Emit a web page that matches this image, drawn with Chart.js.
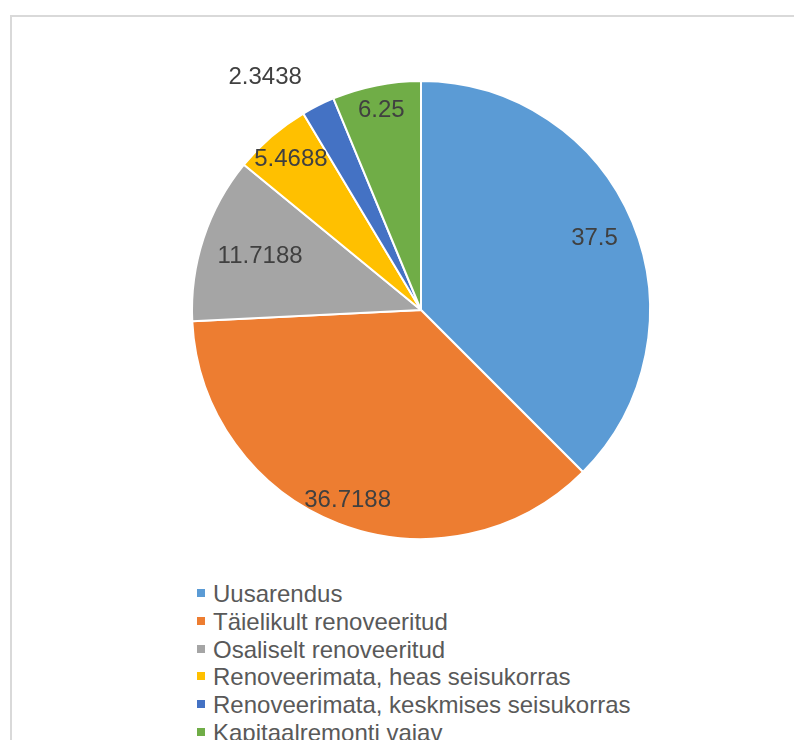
<!DOCTYPE html>
<html lang="et">
<head>
<meta charset="utf-8">
<title>Hoonete seisukord</title>
<script src="https://cdn.jsdelivr.net/npm/chart.js@4.4.1/dist/chart.umd.min.js"></script>
<style>
  html, body { margin: 0; padding: 0; background: #fff; overflow: hidden; }
  body { width: 794px; height: 740px; position: relative; font-family: "Liberation Sans", Arial, sans-serif; }
  .frame { position: absolute; left: 10px; top: 15px; width: 820px; height: 760px;
           border: 2px solid #d9d9d9; box-sizing: border-box; }
  #pie { position: absolute; left: 0; top: 0; }
  .legend { position: absolute; left: 197px; top: 580px; margin: 0; padding: 0; list-style: none; }
  .legend li { position: relative; padding-left: 16px; height: 27.75px; line-height: 27.75px;
               font-size: 24px; color: #595959; white-space: nowrap; }
  .legend span { position: absolute; left: 0; top: 9px; width: 8px; height: 8px; }
</style>
</head>
<body>
<div class="frame"></div>
<canvas id="pie" width="794" height="560"></canvas>
<ul class="legend" id="legend"></ul>

<script>
// slices, clockwise from 12 o'clock
const categories = [
  'Uusarendus',
  'Täielikult renoveeritud',
  'Osaliselt renoveeritud',
  'Renoveerimata, heas seisukorras',
  'Renoveerimata, keskmises seisukorras',
  'Kapitaalremonti vajav'
];
const shares = [37.5, 36.7188, 11.7188, 5.4688, 2.3438, 6.25];

const sliceColors = ['#5B9BD5', '#ED7D31', '#A5A5A5', '#FFC000', '#4472C4', '#70AD47'];

// where each value label sits, as a fraction of the radius along the slice middle
// (the thin slice gets its label outside, nudged left)
const labelRadius = [0.82, 0.89, 0.74, 0.87, 1.135, 0.89];
const labelShift = [0, 0, 0, 0, -39, 0];

const sliceLabels = {
  id: 'sliceLabels',
  afterDatasetsDraw(chart) {
    const ctx = chart.ctx;
    const meta = chart.getDatasetMeta(0);
    ctx.save();
    ctx.font = '24px "Liberation Sans", Arial, sans-serif';
    ctx.fillStyle = '#404040';
    ctx.textAlign = 'center';
    ctx.textBaseline = 'middle';
    meta.data.forEach((arc, i) => {
      const p = arc.getProps(['x', 'y', 'startAngle', 'endAngle', 'outerRadius'], true);
      const mid = (p.startAngle + p.endAngle) / 2;
      const r = p.outerRadius * labelRadius[i];
      ctx.fillText(String(chart.data.datasets[0].data[i]),
        p.x + Math.cos(mid) * r + labelShift[i],
        p.y + Math.sin(mid) * r);
    });
    ctx.restore();
  }
};

const chart = new Chart(document.getElementById('pie'), {
  type: 'pie',
  data: {
    labels: categories,
    datasets: [{
      data: shares,
      backgroundColor: sliceColors,
      borderColor: '#ffffff',
      borderWidth: 2,
      radius: 229
    }]
  },
  options: {
    responsive: false,
    animation: false,
    layout: { padding: { left: 48, top: 60 } },
    plugins: {
      legend: { display: false },
      tooltip: { enabled: false }
    }
  },
  plugins: [sliceLabels]
});

// legend as a plain list under the pie
const legendEl = document.getElementById('legend');
chart.options.plugins.legend.labels.generateLabels(chart).forEach(item => {
  const li = document.createElement('li');
  const box = document.createElement('span');
  box.style.background = item.fillStyle;
  li.appendChild(box);
  li.appendChild(document.createTextNode(item.text));
  legendEl.appendChild(li);
});
</script>
</body>
</html>
